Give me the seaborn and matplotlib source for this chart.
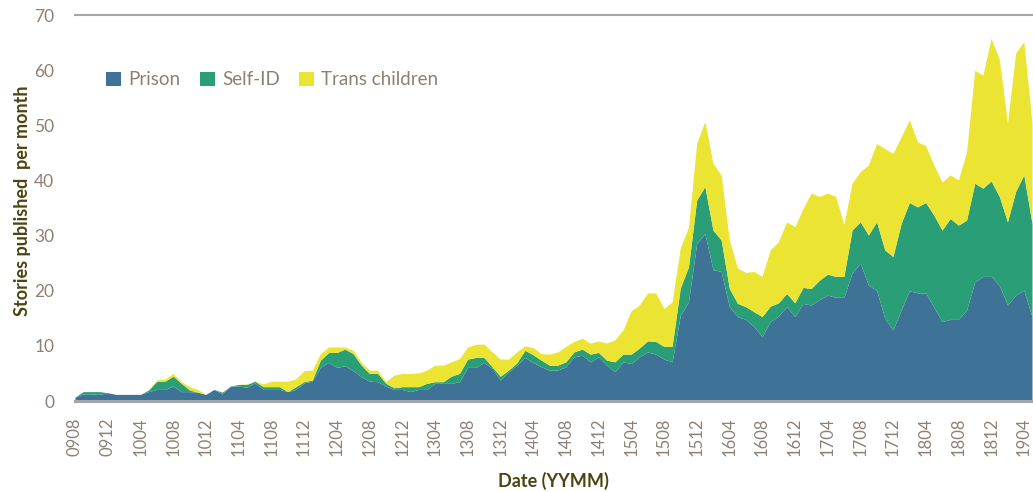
import numpy as np
import pandas as pd
import matplotlib
matplotlib.use("Agg")
import matplotlib.pyplot as plt
import seaborn as sns

# monthly story counts, Aug 2009 .. May 2019
months = pd.date_range("2009-08-01", periods=118, freq="MS").strftime("%y%m").tolist()

prison = [0.7, 1.3, 1.3, 1.2, 1.5, 1.2, 1.2, 1.2, 1.2, 1.7,
          2.1, 2.1, 2.7, 1.7, 1.7, 1.6, 1.2, 2.1, 1.3, 2.7,
          2.7, 2.5, 3.3, 2.1, 2.1, 2.1, 1.7, 2.1, 3.3, 3.6,
          6.1, 7.0, 6.1, 6.4, 5.5, 4.4, 3.6, 3.5, 2.7, 2.1,
          2.1, 1.7, 2.1, 2.1, 3.2, 3.2, 3.2, 3.5, 6.1, 6.1,
          7.0, 5.9, 3.8, 5.3, 6.5, 7.9, 7.0, 6.2, 5.6, 5.6,
          6.2, 8.0, 8.3, 7.1, 8.0, 6.5, 5.3, 7.1, 6.8, 8.0,
          8.9, 8.5, 7.6, 7.1, 15.5, 18.0, 28.5, 30.4, 23.8, 23.5,
          17.1, 15.3, 14.8, 13.5, 11.7, 14.4, 15.4, 17.1, 15.3, 17.7,
          17.4, 18.4, 19.2, 18.8, 18.8, 23.2, 25.0, 21.0, 20.1, 15.0,
          12.9, 16.5, 20.0, 19.6, 19.6, 17.0, 14.4, 14.8, 14.8, 16.5,
          21.6, 22.6, 22.6, 21.0, 17.4, 19.2, 20.1, 15.3]

self_id = [0.0, 0.4, 0.4, 0.5, 0.0, 0.0, 0.0, 0.0, 0.0, 0.3,
           1.5, 1.5, 1.8, 1.5, 0.3, 0.0, 0.0, 0.0, 0.3, 0.0,
           0.3, 0.5, 0.3, 0.5, 0.5, 0.5, 0.0, 0.5, 0.2, 0.2,
           1.3, 1.8, 2.7, 3.0, 3.1, 2.1, 1.4, 1.5, 0.5, 0.3,
           0.5, 0.9, 0.5, 1.1, 0.3, 0.3, 1.3, 1.5, 1.5, 1.8,
           0.9, 0.3, 0.7, 0.3, 0.4, 1.3, 1.4, 1.2, 0.9, 0.9,
           0.9, 0.9, 1.1, 1.4, 0.8, 0.9, 1.8, 1.4, 1.7, 1.6,
           2.0, 2.3, 2.3, 2.8, 5.0, 6.3, 7.9, 8.5, 7.2, 5.7,
           3.3, 2.4, 2.3, 2.7, 3.6, 2.8, 2.4, 2.4, 2.5, 2.9,
           3.0, 3.5, 3.8, 3.8, 3.8, 7.8, 7.5, 9.1, 12.4, 12.4,
           13.3, 15.7, 16.0, 15.6, 16.4, 16.7, 16.6, 18.3, 17.1, 16.3,
           17.9, 16.0, 17.3, 16.1, 15.1, 18.8, 20.9, 16.9]

trans_children = [0.0, 0.0, 0.0, 0.0, 0.0, 0.0, 0.0, 0.0, 0.0, 0.0,
                  0.2, 0.4, 0.5, 0.3, 0.6, 0.5, 0.0, 0.0, 0.0, 0.0,
                  0.0, 0.1, 0.0, 0.5, 1.0, 1.0, 1.9, 1.4, 2.0, 1.8,
                  1.2, 1.0, 1.0, 0.4, 0.6, 0.5, 0.6, 0.6, 0.3, 2.3,
                  2.4, 2.4, 2.5, 2.4, 3.0, 3.0, 2.6, 2.7, 2.2, 2.4,
                  2.4, 2.7, 3.1, 2.0, 2.0, 0.8, 1.3, 1.2, 2.0, 2.4,
                  2.8, 1.9, 2.0, 2.0, 2.1, 3.1, 4.0, 4.4, 7.9, 7.8,
                  8.7, 8.8, 6.9, 8.1, 7.3, 7.2, 10.3, 11.8, 12.1, 11.8,
                  8.8, 6.4, 6.2, 7.3, 7.3, 10.2, 11.1, 13.0, 13.8, 14.3,
                  17.3, 15.2, 14.7, 14.5, 9.4, 8.5, 9.1, 12.7, 14.2, 18.4,
                  18.7, 15.7, 15.0, 11.8, 10.3, 9.1, 8.7, 7.9, 8.2, 12.4,
                  20.5, 20.5, 25.9, 24.9, 17.9, 25.1, 24.2, 18.2]

series_names = ["Prison", "Self-ID", "Trans children"]
colors = ["#3e7296", "#299e77", "#ece432"]

sns.set_theme(style="white")
plt.rcParams['font.family'] = ['Lato', 'DejaVu Sans']

tick_color = "#8c8076"
label_color = "#4a4410"

fig = plt.figure(figsize=(10.33, 4.92), dpi=100)
ax = fig.add_axes([75 / 1033, 91 / 492, 957 / 1033, 386 / 492])

x = np.arange(len(months))
ax.stackplot(x, prison, self_id, trans_children, colors=sns.color_palette(colors),
             labels=series_names, linewidth=0)

ax.set_xlim(0, len(months) - 1)
ax.set_ylim(0, 70)
ax.set_yticks(range(0, 71, 10))
ax.set_xticks(x[::4])
ax.set_xticklabels(months[::4], rotation=90)
ax.tick_params(axis='x', colors=tick_color, labelsize=12, length=0, pad=12)
ax.tick_params(axis='y', colors=tick_color, labelsize=12.5, length=0, pad=15)

for side in ["left", "right"]:
    ax.spines[side].set_visible(False)
ax.spines["top"].set_color("#a6a6a6")
ax.spines["top"].set_linewidth(1.5)
ax.spines["bottom"].set_color("#a6a6a6")
ax.spines["bottom"].set_linewidth(2.2)
ax.grid(False)

ax.set_xlabel("Date (YYMM)", fontsize=13, fontweight="bold", color=label_color, labelpad=11)
ax.set_ylabel("Stories published  per month", fontsize=13, fontweight="bold", color=label_color)
ax.yaxis.set_label_coords(-0.046, 0.52)

leg = ax.legend(loc="center left", bbox_to_anchor=(0.015, 0.832), ncol=3, frameon=False,
                fontsize=13.5, handlelength=0.8, handleheight=0.8, handletextpad=0.4,
                columnspacing=1.0)
for t in leg.get_texts():
    t.set_color(tick_color)

fig.savefig("out.png", dpi=100)
